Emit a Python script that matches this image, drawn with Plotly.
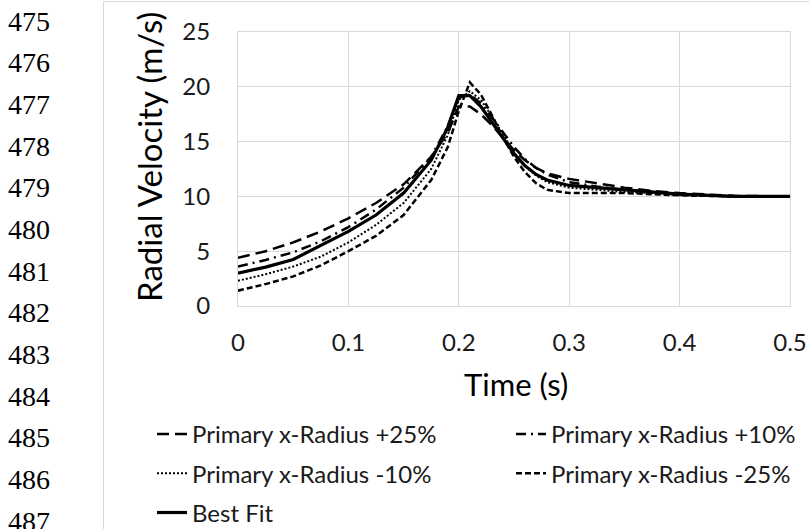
import plotly.graph_objects as go

# ---- data ----
time_s = [0, 0.025, 0.05, 0.075, 0.1, 0.125, 0.15, 0.175, 0.19, 0.2, 0.21, 0.22, 0.23,
          0.24, 0.25, 0.26, 0.27, 0.28, 0.3, 0.325, 0.35, 0.375, 0.4, 0.45, 0.5]

plus25 = [4.4, 5.0, 5.8, 6.8, 8.0, 9.4, 11.1, 13.6, 15.8, 18.2, 18.2, 17.5, 16.5,
          15.3, 14.2, 13.3, 12.6, 12.1, 11.6, 11.2, 10.8, 10.5, 10.3, 10.05, 10.0]
plus10 = [3.6, 4.2, 4.9, 5.9, 7.2, 8.8, 10.8, 13.6, 16.4, 19.0, 19.3, 18.5, 17.2,
          15.8, 14.5, 13.4, 12.6, 12.0, 11.3, 10.9, 10.6, 10.4, 10.2, 10.0, 10.0]
minus10 = [2.3, 2.9, 3.6, 4.5, 5.8, 7.4, 9.4, 12.5, 15.6, 18.8, 19.6, 18.8, 17.3,
           15.6, 14.0, 12.8, 11.9, 11.3, 10.8, 10.6, 10.4, 10.3, 10.1, 10.0, 10.0]
minus25 = [1.4, 2.0, 2.7, 3.7, 5.0, 6.4, 8.3, 11.5, 14.5, 17.8, 20.4, 19.3, 17.4,
           15.4, 13.6, 12.2, 11.2, 10.6, 10.3, 10.3, 10.3, 10.2, 10.1, 10.0, 10.0]
best_fit = [3.0, 3.55, 4.25, 5.5, 6.8, 8.3, 10.3, 13.3, 16.3, 19.2, 19.2, 18.2, 16.8,
            15.3, 13.9, 12.8, 12.0, 11.5, 11.0, 10.8, 10.6, 10.4, 10.2, 10.0, 10.0]

series_names = ["Primary x-Radius +25%", "Primary x-Radius +10%",
                "Primary x-Radius -10%", "Primary x-Radius -25%", "Best Fit"]
x_ticks = [0, 0.1, 0.2, 0.3, 0.4, 0.5]
x_tick_labels = ["0", "0.1", "0.2", "0.3", "0.4", "0.5"]
y_ticks = [0, 5, 10, 15, 20, 25]
line_numbers = list(range(475, 488))

# ---- layout constants ----
W, H = 809, 529
ML, MR, MT, MB = 238, 19, 32, 223
PW, PH = W - ML - MR, H - MT - MB

def px_x(p):
    return (p - ML) / PW

def px_y(p):
    return (H - MB - p) / PH

FONT = "Lato"
fig = go.Figure()

styles = [
    dict(dash="12px,6px", width=2.5, legend="legend"),
    dict(dash="10px,5px,2px,5px", width=2.5, legend="legend2"),
    dict(dash="2px,2px", width=2, legend="legend"),
    dict(dash="6px,3px", width=2.5, legend="legend2"),
    dict(dash="solid", width=3.2, legend="legend"),
]
data = [plus25, plus10, minus10, minus25, best_fit]
for i, (name, ys, st) in enumerate(zip(series_names, data, styles)):
    fig.add_trace(go.Scatter(
        x=time_s, y=ys, mode="lines", name=name,
        line=dict(color="black", width=st["width"], dash=st["dash"]),
        legend=st["legend"], legendgroup="g%d" % i,
    ))

axis_common = dict(
    showgrid=True, gridcolor="#d9d9d9", gridwidth=1,
    showline=True, linecolor="#d9d9d9", linewidth=1, mirror=True,
    zeroline=False, ticks="",
    tickfont=dict(family=FONT, size=24, color="#1a1a1a"),
)
fig.update_xaxes(range=[0, 0.5], tickvals=x_ticks, ticktext=x_tick_labels,
                 ticklabelstandoff=15, **axis_common)
fig.update_yaxes(range=[0, 25], tickvals=y_ticks, ticklabelstandoff=22, **axis_common)

legend_common = dict(
    bgcolor="rgba(0,0,0,0)", font=dict(family=FONT, size=24, color="#1a1a1a"),
    orientation="v", xanchor="left", yanchor="top", tracegroupgap=5,
    itemwidth=30,
)
fig.update_layout(
    width=W, height=H,
    margin=dict(l=ML, r=MR, t=MT, b=MB, pad=0, autoexpand=False),
    paper_bgcolor="white", plot_bgcolor="white",
    showlegend=True,
    legend=dict(x=px_x(152), y=px_y(412), **legend_common),
    legend2=dict(x=px_x(511), y=px_y(412), **legend_common),
)

annotations = [
    dict(text="Radial Velocity (m/s)", textangle=-90, x=px_x(149), y=px_y(157),
         xref="paper", yref="paper", showarrow=False, xanchor="center", yanchor="middle",
         font=dict(family=FONT, size=33, color="black")),
    dict(text="Time (s)", x=px_x(516), y=px_y(384),
         xref="paper", yref="paper", showarrow=False, xanchor="center", yanchor="middle",
         font=dict(family=FONT, size=31, color="black")),
]
for k, n in enumerate(line_numbers):
    annotations.append(dict(
        text=str(n), x=px_x(6), y=px_y(21 + k * 41.67), xref="paper", yref="paper",
        showarrow=False, xanchor="left", yanchor="middle",
        font=dict(family="Liberation Serif", size=28, color="black")))
fig.update_layout(annotations=annotations)

fig.add_shape(type="rect", xref="paper", yref="paper",
              x0=px_x(103.5), x1=px_x(830), y0=px_y(1.5), y1=px_y(560),
              line=dict(color="#d9d9d9", width=1), fillcolor="rgba(0,0,0,0)", layer="below")

fig.write_html("out.html")
